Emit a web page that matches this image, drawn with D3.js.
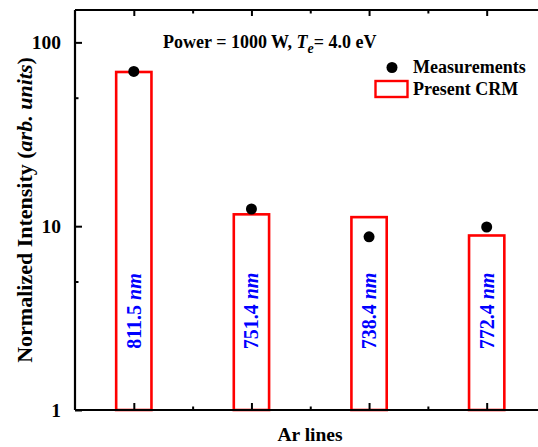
<!DOCTYPE html>
<html><head><meta charset="utf-8">
<script src="https://cdn.jsdelivr.net/npm/d3@7"></script>
<style>body{margin:0;background:#fff}svg{display:block;font-family:"Liberation Serif","Times New Roman",serif;font-weight:bold}</style>
</head><body>
<svg id="c" width="538" height="447"></svg>
<script>
const lines = ["811.5", "751.4", "738.4", "772.4"];
const positions = [1, 2, 3, 4];
const crmValues = [69, 11.6, 11.2, 8.9];
const measValues = [69.5, 12.4, 8.75, 9.9];
const yMajorTicks = [1, 10, 100];
const yMinorTicks = [5, 50];
const xMajorTicks = [1, 2, 3, 4];
const xMinorTicks = [1.5, 2.5, 3.5];

const svg = d3.select("#c");
const L = 75, R = 545.5, T = 10, B = 410;
const x = d3.scaleLinear().domain([0.5, 4.5]).range([L, R]);
const y = d3.scaleLog().domain([1, 150]).range([B, T]);
const barW = 0.3;

// bars
svg.append("g").selectAll("rect").data(positions).join("rect")
  .attr("x", (d) => x(d - barW / 2))
  .attr("width", (d) => x(d + barW / 2) - x(d - barW / 2))
  .attr("y", (d, i) => y(crmValues[i]))
  .attr("height", (d, i) => y(1) - y(crmValues[i]))
  .attr("fill", "#fff").attr("stroke", "#ff0000").attr("stroke-width", 2.6);

// labels
const lab = svg.append("g").selectAll("text").data(positions).join("text")
  .attr("transform", (d) => `translate(${x(d)},311) rotate(-90)`)
  .attr("text-anchor", "middle").attr("dy", "0.35em")
  .attr("fill", "#0000ff").attr("font-size", 20);
lab.append("tspan").text((d, i) => lines[i] + " ");
lab.append("tspan").attr("font-style", "italic").text("nm");

// measurements
svg.append("g").selectAll("circle").data(positions).join("circle")
  .attr("cx", (d) => x(d)).attr("cy", (d, i) => y(measValues[i]))
  .attr("r", 5.5).attr("fill", "#000");

// axes
const axisG = svg.append("g").attr("stroke", "#000").attr("fill", "none");
axisG.append("g").attr("transform", `translate(0,${B})`)
  .call(d3.axisBottom(x).tickValues(xMajorTicks).tickSize(-7).tickFormat(""))
  .call(g => g.selectAll("line").attr("stroke-width", 2))
  .call(g => g.select(".domain").attr("stroke-width", 2.2).attr("d", `M${L},0H${R}`));
axisG.append("g").attr("transform", `translate(0,${B})`)
  .call(d3.axisBottom(x).tickValues(xMinorTicks).tickSize(-3.5).tickFormat(""))
  .call(g => g.selectAll("line").attr("stroke-width", 2))
  .call(g => g.select(".domain").remove());
axisG.append("g").attr("transform", `translate(0,${T})`)
  .call(d3.axisTop(x).tickValues(xMajorTicks).tickSize(-6).tickFormat(""))
  .call(g => g.selectAll("line").attr("stroke-width", 2))
  .call(g => g.select(".domain").attr("stroke-width", 2.2).attr("d", `M${L},0H${R}`));
axisG.append("g").attr("transform", `translate(0,${T})`)
  .call(d3.axisTop(x).tickValues(xMinorTicks).tickSize(-3.5).tickFormat(""))
  .call(g => g.selectAll("line").attr("stroke-width", 2))
  .call(g => g.select(".domain").remove());

const yAx = svg.append("g").attr("transform", `translate(${L},0)`)
  .call(d3.axisLeft(y).tickValues(yMajorTicks).tickSize(-7).tickPadding(14).tickFormat(d3.format("d")));
yAx.select(".domain").attr("stroke-width", 2.2).attr("d", `M0,${B}V${T}`);
yAx.selectAll("line").attr("stroke-width", 2);
yAx.selectAll("text").attr("font-size", 19.5).attr("font-family", "Liberation Serif").attr("font-weight", "bold").attr("fill", "#000");
svg.append("g").attr("transform", `translate(${L},0)`)
  .call(d3.axisLeft(y).tickValues(yMinorTicks).tickSize(-3.5).tickFormat(""))
  .call(g => g.selectAll("line").attr("stroke-width", 2))
  .call(g => g.select(".domain").remove());

// axis titles
svg.append("text").attr("x", 310).attr("y", 441).attr("text-anchor", "middle")
  .attr("font-size", 19.5).text("Ar lines");
const yt = svg.append("text").attr("transform", "translate(32,210) rotate(-90)")
  .attr("text-anchor", "middle").attr("font-size", 22);
yt.append("tspan").text("Normalized Intensity (");
yt.append("tspan").attr("font-style", "italic").text("arb. units");
yt.append("tspan").text(")");

// annotation
const an = svg.append("text").attr("x", 163).attr("y", 48).attr("font-size", 18);
an.append("tspan").text("Power = 1000 W, ");
an.append("tspan").attr("font-style", "italic").text("T");
an.append("tspan").attr("font-style", "italic").attr("font-size", 14).attr("dy", 5).text("e");
an.append("tspan").attr("dy", -5).text("= 4.0 eV");

// legend
svg.append("circle").attr("cx", 392).attr("cy", 67.5).attr("r", 5.5).attr("fill", "#000");
svg.append("text").attr("x", 413).attr("y", 73).attr("font-size", 18).text("Measurements");
svg.append("rect").attr("x", 375.5).attr("y", 81).attr("width", 32).attr("height", 16)
  .attr("fill", "#fff").attr("stroke", "#ff0000").attr("stroke-width", 2.4);
svg.append("text").attr("x", 413).attr("y", 95).attr("font-size", 18).text("Present CRM");
</script>
</body></html>
